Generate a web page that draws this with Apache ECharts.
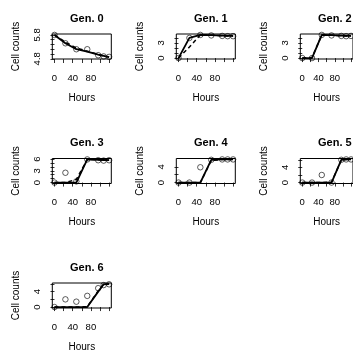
<!DOCTYPE html>
<html><head><meta charset="utf-8">
<script src="https://cdn.jsdelivr.net/npm/echarts@6/dist/echarts.min.js"></script>
<style>html,body{margin:0;padding:0;background:#fff}#c{width:353px;height:358px}</style>
</head><body><div id="c"></div>
<script>
const times = [0, 24, 48, 72, 96, 108, 120];
const genNames = ['Gen. 0','Gen. 1','Gen. 2','Gen. 3','Gen. 4','Gen. 5','Gen. 6'];
const xTicks = [0, 20, 40, 60, 80, 100, 120];
const xLabels = [0, 40, 80];

const gen0Obs    = [5.8, 5.45, 5.2, 5.2, 4.95, 4.9, 4.88];
const gen0Solid  = [5.8, 5.45, 5.2, 5.1, 4.97, 4.92, 4.87];
const gen0Dashed = [5.8, 5.5, 5.25, 5.12, 4.98, 4.92, 4.87];
const gen1Obs    = [0, 4.0, 4.6, 4.5, 4.4, 4.35, 4.35];
const gen1Solid  = [0, 4.0, 4.6, 4.55, 4.45, 4.4, 4.4];
const gen1Dashed = [0, 2.2, 4.6, 4.55, 4.45, 4.4, 4.4];
const gen2Obs    = [0, 0, 4.6, 4.5, 4.4, 4.35, 4.4];
const gen2Solid  = [0, 0, 4.6, 4.55, 4.45, 4.4, 4.4];
const gen2Dashed = [0, 0.1, 4.6, 4.55, 4.45, 4.4, 4.4];
const gen3Obs    = [0, 2.5, 0.3, 5.9, 5.7, 5.6, 5.7];
const gen3Solid  = [0, 0, 0, 5.9, 5.8, 5.75, 5.7];
const gen3Dashed = [0, 0, 0.8, 5.9, 5.8, 5.75, 5.7];
const gen4Obs    = [0, 0, 3.9, 5.8, 5.9, 5.9, 5.9];
const gen4Solid  = [0, 0, 0, 5.8, 5.9, 5.9, 5.9];
const gen4Dashed = [0, 0, 0, 5.6, 5.9, 5.9, 5.9];
const gen5Obs    = [0, 0, 2.0, 0, 6.0, 6.1, 6.1];
const gen5Solid  = [0, 0, 0, 0, 6.0, 6.1, 6.1];
const gen5Dashed = [0, 0, 0, 0.1, 5.9, 6.1, 6.1];
const gen6Obs    = [0, 2.0, 1.4, 2.9, 4.9, 5.7, 5.9];
const gen6Solid  = [0, 0, 0, 0, 4.0, 5.9, 6.0];
const gen6Dashed = [0, 0, 0, 0.1, 4.2, 5.9, 6.0];

const yRanges = [[4.83, 5.8], [0, 4.6], [0, 4.6], [0, 5.9], [0, 5.9], [0, 6.1], [0, 6.0]];
const yTicks = [
  [4.8, 5.0, 5.2, 5.4, 5.6, 5.8],
  [0, 1, 2, 3, 4],
  [0, 1, 2, 3, 4],
  [0, 1, 2, 3, 4, 5, 6],
  [0, 2, 4],
  [0, 2, 4, 6],
  [0, 2, 4, 6]
];
const yLabels = [[4.8, 5.8], [0, 3], [0, 3], [0, 3, 6], [0, 4], [0, 4], [0, 4]];

const obs = [gen0Obs, gen1Obs, gen2Obs, gen3Obs, gen4Obs, gen5Obs, gen6Obs];
const solid = [gen0Solid, gen1Solid, gen2Solid, gen3Solid, gen4Solid, gen5Solid, gen6Solid];
const dashed = [gen0Dashed, gen1Dashed, gen2Dashed, gen3Dashed, gen4Dashed, gen5Dashed, gen6Dashed];

const FONT = 'Liberation Sans';
const boxW = 59, boxH = 25;
const grids = [], xAxes = [], yAxes = [], series = [], titles = [];
const pair = arr => times.map((t, i) => [t, arr[i]]);

for (let g = 0; g < 7; g++) {
  const col = g % 3, row = Math.floor(g / 3);
  const L = 52.3 + 124 * col, T = 34 + 124.5 * row;
  grids.push({left: L, top: T, width: boxW, height: boxH, show: true,
    borderColor: '#000', borderWidth: 1, backgroundColor: 'transparent'});
  titles.push({text: genNames[g], left: L + boxW / 2, top: T - 26, textAlign: 'center',
    textStyle: {fontSize: 11, fontWeight: 'bold', fontFamily: FONT, color: '#000'}});
  xAxes.push({type: 'value', gridIndex: g, min: -4.8, max: 124.8,
    axisLine: {show: false}, splitLine: {show: false},
    axisTick: {show: true, length: 4, customValues: xTicks, lineStyle: {color: '#000', width: 0.8}},
    axisLabel: {customValues: xLabels, fontSize: 9.5, fontFamily: FONT, color: '#000', margin: 14},
    name: 'Hours', nameLocation: 'middle', nameGap: 34,
    nameTextStyle: {fontSize: 10, fontFamily: FONT, color: '#000'}});
  const lo = yRanges[g][0], hi = yRanges[g][1], pad = (hi - lo) * 0.04;
  yAxes.push({type: 'value', gridIndex: g, min: lo - pad, max: hi + pad,
    axisLine: {show: false}, splitLine: {show: false},
    axisTick: {show: true, length: 4, customValues: yTicks[g], lineStyle: {color: '#000', width: 0.8}},
    axisLabel: {customValues: yLabels[g], rotate: 90, fontSize: 9.5, fontFamily: FONT, color: '#000', margin: 10,
      formatter: v => String(v)},
    name: 'Cell counts', nameLocation: 'middle', nameRotate: 90, nameGap: 31,
    nameTextStyle: {fontSize: 10, fontFamily: FONT, color: '#000'}});
  series.push({type: 'scatter', xAxisIndex: g, yAxisIndex: g, data: pair(obs[g]),
    symbol: 'circle', symbolSize: 5.5, silent: true,
    itemStyle: {color: 'transparent', borderColor: '#000', borderWidth: 0.8}});
  series.push({type: 'line', xAxisIndex: g, yAxisIndex: g, data: pair(solid[g]),
    showSymbol: false, silent: true, lineStyle: {color: '#000', width: 1.8, type: 'solid'}});
  series.push({type: 'line', xAxisIndex: g, yAxisIndex: g, data: pair(dashed[g]),
    showSymbol: false, silent: true, lineStyle: {color: '#000', width: 1.5, type: [4, 3]}});
}

const chart = echarts.init(document.getElementById('c'), null, {renderer: 'canvas'});
chart.setOption({animation: false, backgroundColor: '#fff', title: titles, grid: grids,
  xAxis: xAxes, yAxis: yAxes, series: series});
</script></body></html>
